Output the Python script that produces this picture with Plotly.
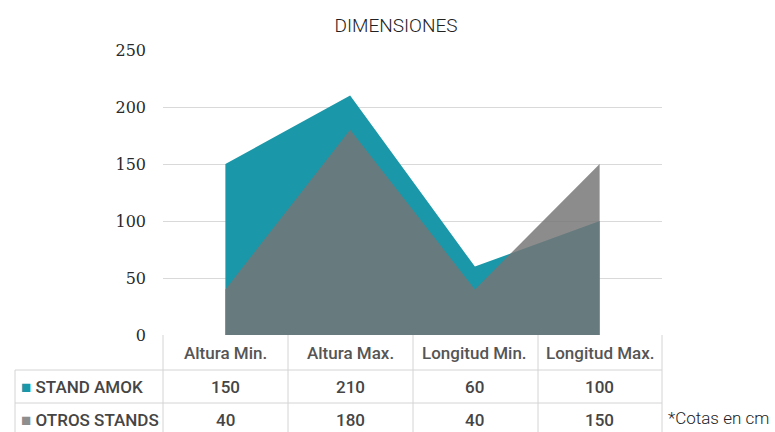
import plotly.graph_objects as go

categories = ["Altura Min.", "Altura Max.", "Longitud Min.", "Longitud Max."]
series_names = ["STAND AMOK", "OTROS STANDS"]
stand_amok = [150, 210, 60, 100]
otros_stands = [40, 180, 40, 150]
y_ticks = [0, 50, 100, 150, 200, 250]

TEAL = "#1a97a8"
GRAY_FILL = "rgba(118,118,118,0.84)"
GRAY_KEY = "#8e8e8e"
COND = "Roboto, Liberation Sans, sans-serif"

W, H = 775, 432
L, R, T, B = 163, 662, 50, 335

def px_x(p):
    return (p - L) / (R - L)

def px_y(p):
    return (B - p) / (B - T)

fig = go.Figure()
fig.add_trace(go.Scatter(x=categories, y=stand_amok, name=series_names[0], mode="none",
                         fill="tozeroy", fillcolor=TEAL, hoverinfo="x+y+name"))
fig.add_trace(go.Scatter(x=categories, y=otros_stands, name=series_names[1], mode="none",
                         fill="tozeroy", fillcolor=GRAY_FILL, hoverinfo="x+y+name"))

shapes = []
line = dict(color="#d4d4d4", width=1)
row_y = [335, 370, 403, 440]
col_x = [163, 288, 413, 538, 662]
for yy in row_y[1:3]:
    shapes.append(dict(type="line", xref="paper", yref="paper", x0=px_x(15), x1=px_x(662),
                       y0=px_y(yy), y1=px_y(yy), line=line))
for xx in col_x:
    shapes.append(dict(type="line", xref="paper", yref="paper", x0=px_x(xx), x1=px_x(xx),
                       y0=px_y(335), y1=px_y(440), line=line))
shapes.append(dict(type="line", xref="paper", yref="paper", x0=px_x(15), x1=px_x(15),
                   y0=px_y(370), y1=px_y(440), line=line))

annotations = []
hdr_font = dict(family=COND, size=17, color="#555555", weight=500)
val_font = dict(family=COND, size=17, color="#454545", weight=500)
for c in categories:
    annotations.append(dict(x=c, xref="x", y=px_y(353), yref="paper", text=c, showarrow=False,
                            font=hdr_font, xanchor="center", yanchor="middle"))
for r, (name, vals, col) in enumerate([(series_names[0], stand_amok, TEAL),
                                       (series_names[1], otros_stands, GRAY_KEY)]):
    yc = px_y(387 + r * 33)
    for c, v in zip(categories, vals):
        annotations.append(dict(x=c, xref="x", y=yc, yref="paper", text=str(v), showarrow=False,
                                font=val_font, xanchor="center", yanchor="middle"))
    annotations.append(dict(x=px_x(19), xref="paper", y=yc, yref="paper",
                            text=f'<span style="color:{col};font-size:17px">■</span>\u00a0{name}',
                            showarrow=False, font=val_font, xanchor="left", yanchor="middle"))

annotations.append(dict(x=px_x(666), xref="paper", y=px_y(418), yref="paper", text="*Cotas en cm",
                        showarrow=False,
                        font=dict(family=COND, size=17, color="#222222", weight=300),
                        xanchor="left", yanchor="middle"))

fig.update_layout(
    width=W, height=H,
    margin=dict(l=L, r=W - R, t=T, b=H - B),
    paper_bgcolor="white", plot_bgcolor="white",
    showlegend=False,
    title=dict(text="DIMENSIONES", x=396 / W, xanchor="center", y=1 - 25 / H, yanchor="middle",
               font=dict(family=COND, size=19, color="#222222", weight=300)),
    xaxis=dict(type="category", categoryarray=categories, range=[-0.5, 3.5], showgrid=False,
               showticklabels=False, showline=False, zeroline=False, fixedrange=True),
    yaxis=dict(range=[0, 250], tickvals=y_ticks, showgrid=True, gridcolor="#d9d9d9", gridwidth=1,
               zeroline=False, showline=False, ticks="", ticklabelstandoff=16,
               tickfont=dict(family="DejaVu Serif, Liberation Serif, serif", size=16, color="#2a2a2a"),
               fixedrange=True),
    shapes=shapes,
    annotations=annotations,
)

fig.write_html("out.html")
